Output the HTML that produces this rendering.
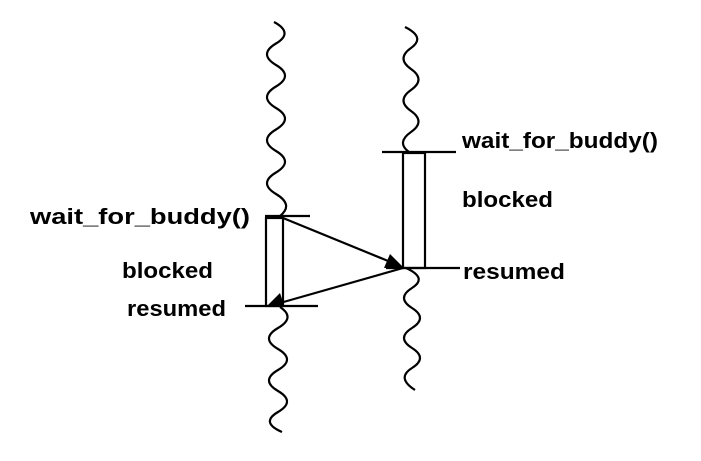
<!DOCTYPE html>
<html><head><style>html,body{margin:0;padding:0;background:#fff}svg{display:block}</style></head><body>
<svg width="701" height="461" viewBox="0 0 701 461" xmlns="http://www.w3.org/2000/svg">
<g fill="none" stroke="#000" stroke-width="2.2">
<path d="M274,22 Q294,32.75 276,43.5 T276,65 T276,86.5 T276,108 T276,129.5 T276,151 T276,172.5 T276,194 T280,216"/>
<path d="M280,307 Q296,317.5 278,328 T278,349 T278,370 T278,391 T278,412 T282,432"/>
<path d="M405,27 Q426,37.5 411,48 T411,69 T411,90 T411,111 T411,132 T409,152"/>
<path d="M406,268 Q428,278 412,288 T412,308 T412,328 T412,348 T412,368 T415,390"/>
<line x1="265" y1="216" x2="310" y2="216"/>
<line x1="245" y1="306" x2="318" y2="306"/>
<line x1="382" y1="152" x2="456" y2="152"/>
<line x1="386" y1="268" x2="460" y2="268"/>
<rect x="266" y="218" width="17" height="88"/>
<rect x="403" y="153" width="22" height="115"/>
</g>
<g stroke="#000" stroke-width="2.2">
<line x1="283" y1="218" x2="393" y2="263"/>
<line x1="403" y1="268" x2="280" y2="303"/>
</g>
<polygon points="403,267 384,268 390,254" fill="#000"/>
<polygon points="267,306 280,293 284,305" fill="#000"/>
<g font-family="Liberation Sans, Arial, sans-serif" font-weight="bold" font-size="22" fill="#000">
<text x="30" y="224" textLength="220" lengthAdjust="spacingAndGlyphs">wait_for_buddy()</text>
<text x="122" y="278" textLength="91" lengthAdjust="spacingAndGlyphs">blocked</text>
<text x="127" y="316" textLength="99" lengthAdjust="spacingAndGlyphs">resumed</text>
<text x="462" y="148" textLength="196" lengthAdjust="spacingAndGlyphs">wait_for_buddy()</text>
<text x="462" y="207" textLength="91" lengthAdjust="spacingAndGlyphs">blocked</text>
<text x="463" y="279" textLength="102" lengthAdjust="spacingAndGlyphs">resumed</text>
</g>
</svg>
</body></html>
